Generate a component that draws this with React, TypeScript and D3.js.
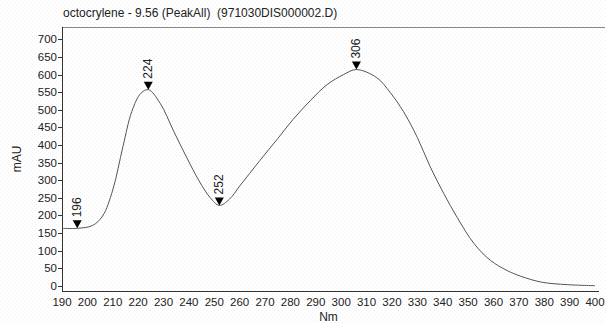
import React from "react";
import * as d3 from "d3";

const wavelengths = [190, 196, 202, 206, 210, 214, 217.5, 221, 224, 228.7, 234, 239, 244, 248.4, 252, 256, 260, 268, 275, 281, 288, 294.4, 301, 306, 314, 319.4, 324.6, 330, 335, 340.4, 345.7, 352.3, 358.8, 365.4, 370.7, 379, 389, 400];
const absorbance = [163, 163, 171, 198, 272, 395, 495, 546, 557, 518, 439, 366, 298, 250, 228, 246, 283, 356, 418, 472, 527, 571, 600, 614, 591, 548, 494, 421, 339, 262, 194, 120, 72, 43, 27, 10, 3, 0];
const peakNm = [196, 224, 252, 306];
const peakVal = [163, 557, 228, 614];
const xTicks = d3.range(190, 401, 10);
const yTicks = d3.range(0, 701, 50);
const title = "octocrylene - 9.56 (PeakAll)  (971030DIS000002.D)";

const W = 605, H = 324;
const L = 62, R = 605, T = 27, B = 291;

export default function App() {
  const x = d3.scaleLinear().domain([190, 400]).range([62, 595]);
  const y = d3.scaleLinear().domain([0, 700]).range([285.7, 39.3]);
  const pts: [number, number][] = wavelengths.map((w, i) => [w, absorbance[i]]);
  const line = d3.line<[number, number]>().x(d => x(d[0])).y(d => y(d[1])).curve(d3.curveCatmullRom.alpha(0.5));
  const font = "Arial, 'Liberation Sans', sans-serif";
  return (
    <svg width={W} height={H} style={{ position: "absolute", left: 0, top: 0 }} fontFamily={font}>
      <defs>
        <pattern id="dots" width="4" height="4" patternUnits="userSpaceOnUse">
          <rect width="4" height="4" fill="#ffffff" />
          <rect x="0" y="0" width="1" height="1" fill="#f2eef2" />
          <rect x="2" y="2" width="1" height="1" fill="#eef0f2" />
        </pattern>
      </defs>
      <rect width={W} height={H} fill="url(#dots)" />
      <text x={L + 1} y={17} fontSize={12} fill="#222" style={{ whiteSpace: "pre" }}>{title}</text>
      <line x1={L} x2={R} y1={T + 0.5} y2={T + 0.5} stroke="#888" />
      <line x1={L + 0.5} x2={L + 0.5} y1={T} y2={B} stroke="#333" />
      <line x1={L} x2={599} y1={B + 0.5} y2={B + 0.5} stroke="#333" />
      {yTicks.map(t => (
        <g key={t}>
          <line x1={L - 4} x2={L} y1={Math.round(y(t)) + 0.5} y2={Math.round(y(t)) + 0.5} stroke="#333" />
          <text x={L - 5} y={y(t)} dy="0.35em" fontSize={11.5} textAnchor="end" fill="#222">{t}</text>
        </g>
      ))}
      {xTicks.map(t => (
        <g key={t}>
          <text x={x(t)} y={306} fontSize={11.5} textAnchor="middle" fill="#222">{t}</text>
        </g>
      ))}
      <text transform={`translate(21,${(T + B) / 2}) rotate(-90)`} fontSize={12} textAnchor="middle" fill="#222">mAU</text>
      <text x={(L + 595) / 2} y={321} fontSize={12} textAnchor="middle" fill="#222">Nm</text>
      <path d={line(pts) || ""} fill="none" stroke="#555" strokeWidth={1} />
      {peakNm.map((p, i) => {
        const px = x(p), py = y(peakVal[i]);
        return (
          <g key={p}>
            <path d={`M${px - 4.5},${py - 8} L${px + 4.5},${py - 8} L${px},${py} Z`} fill="#000" />
            <text transform={`translate(${px + 4},${py - 11}) rotate(-90)`} fontSize={12} fill="#222">{p}</text>
          </g>
        );
      })}
    </svg>
  );
}
